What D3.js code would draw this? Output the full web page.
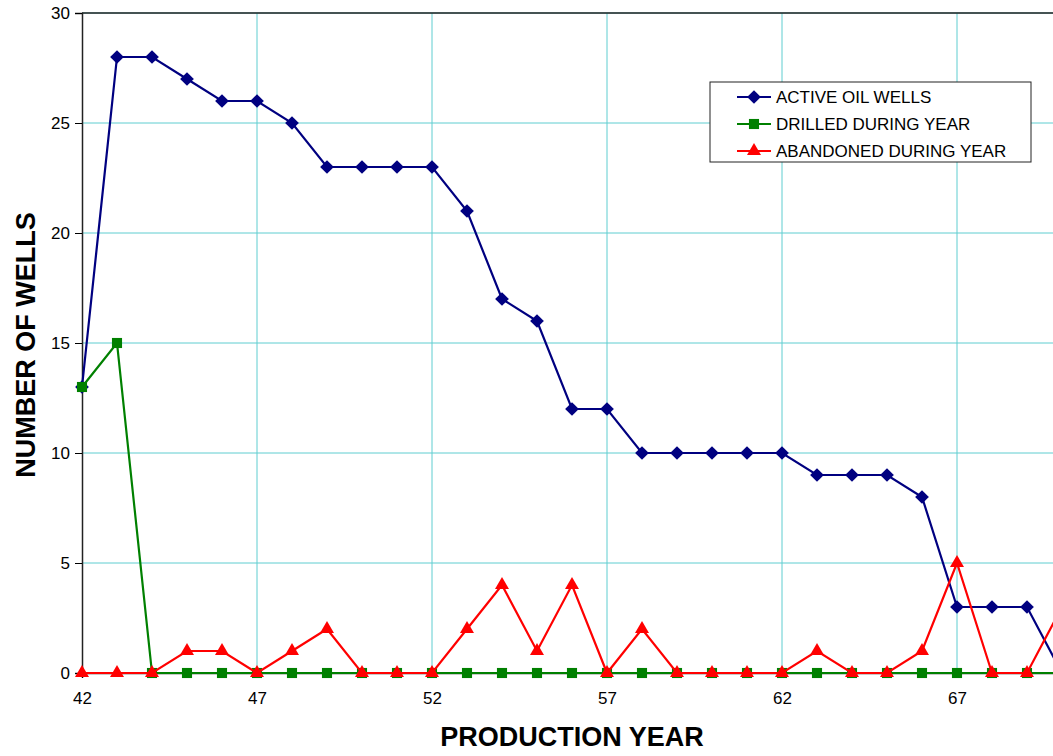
<!DOCTYPE html>
<html>
<head>
<meta charset="utf-8">
<script src="https://cdn.jsdelivr.net/npm/d3@7"></script>
<style>
  body { margin: 0; background: #fff; }
  svg { display: block; font-family: "Liberation Sans", Arial, sans-serif; }
</style>
</head>
<body>
<svg width="1053" height="756"></svg>
<script>
const years = [42, 43, 44, 45, 46, 47, 48, 49, 50, 51, 52, 53, 54, 55, 56, 57, 58, 59, 60, 61, 62, 63, 64, 65, 66, 67, 68, 69, 70]
const active = [13, 28, 28, 27, 26, 26, 25, 23, 23, 23, 23, 21, 17, 16, 12, 12, 10, 10, 10, 10, 10, 9, 9, 9, 8, 3, 3, 3, 0]
const drilled = [13, 15, 0, 0, 0, 0, 0, 0, 0, 0, 0, 0, 0, 0, 0, 0, 0, 0, 0, 0, 0, 0, 0, 0, 0, 0, 0, 0, 0]
const abandoned = [0, 0, 0, 1, 1, 0, 1, 2, 0, 0, 0, 2, 4, 1, 4, 0, 2, 0, 0, 0, 0, 1, 0, 0, 1, 5, 0, 0, 3]
const xTicks = [42, 47, 52, 57, 62, 67]
const yTicks = [0, 5, 10, 15, 20, 25, 30]

const series = [
  { name: "ACTIVE OIL WELLS", values: active, color: "#000080", symbol: d3.symbolDiamond2, size: 120 },
  { name: "DRILLED DURING YEAR", values: drilled, color: "#008000", symbol: d3.symbolSquare2, size: 130 },
  { name: "ABANDONED DURING YEAR", values: abandoned, color: "#FF0000", symbol: d3.symbolTriangle2, size: 140 },
]

const svg = d3.select("svg")
const plotLeft = 82, plotTop = 13, plotBottom = 673

const x = d3.scaleLinear().domain([42, 70]).range([plotLeft, plotLeft + 28 * 35])
const y = d3.scaleLinear().domain([0, 30]).range([plotBottom, plotTop])

// grid
svg.append("g")
  .selectAll("line")
  .data(yTicks.slice(1))
  .join("line")
    .attr("x1", plotLeft).attr("x2", 1053)
    .attr("y1", d => y(d)).attr("y2", d => y(d))
    .attr("stroke", "#5fcdd0").attr("stroke-width", 1)

svg.append("g")
  .selectAll("line")
  .data(xTicks.slice(1))
  .join("line")
    .attr("x1", d => x(d)).attr("x2", d => x(d))
    .attr("y1", plotTop).attr("y2", plotBottom)
    .attr("stroke", "#5fcdd0").attr("stroke-width", 1)

// top border
svg.append("line")
  .attr("x1", plotLeft).attr("x2", 1053)
  .attr("y1", y(30)).attr("y2", y(30))
  .attr("stroke", "#222").attr("stroke-width", 1.5)

// axes
const yAxis = svg.append("g")
  .attr("transform", `translate(${plotLeft},0)`)
  .call(d3.axisLeft(y).tickValues(yTicks).tickSize(7).tickPadding(5))
yAxis.select(".domain").attr("stroke", "#222").attr("stroke-width", 1.5)
yAxis.selectAll("text").attr("fill", "#000")
  .style("font-size", "17px").style("font-family", "Liberation Sans, Arial, sans-serif")

const xAxis = svg.append("g")
  .attr("transform", `translate(0,${plotBottom})`)
  .call(d3.axisBottom(x).tickValues(xTicks).tickSize(5).tickPadding(14).tickFormat(d3.format("d")))
xAxis.select(".domain").attr("stroke", "#222").attr("stroke-width", 1.5)
xAxis.selectAll("text").attr("fill", "#000")
  .style("font-size", "17px").style("font-family", "Liberation Sans, Arial, sans-serif")

// titles
svg.append("text")
  .attr("x", 572).attr("y", 746)
  .attr("text-anchor", "middle")
  .attr("font-size", 27).attr("font-weight", "bold")
  .text("PRODUCTION YEAR")

svg.append("text")
  .attr("transform", "translate(35,345) rotate(-90)")
  .attr("text-anchor", "middle")
  .attr("font-size", 27).attr("font-weight", "bold")
  .text("NUMBER OF WELLS")

// series
const line = d3.line().x((d, i) => x(years[i])).y(d => y(d))

series.forEach(s => {
  const g = svg.append("g")
  g.append("path")
    .attr("d", line(s.values))
    .attr("fill", "none")
    .attr("stroke", s.color)
    .attr("stroke-width", 2.2)
  g.selectAll("path.m")
    .data(s.values)
    .join("path")
      .attr("class", "m")
      .attr("transform", (d, i) => `translate(${x(years[i])},${y(d)})`)
      .attr("d", d3.symbol().type(s.symbol).size(s.size))
      .attr("fill", s.color)
})

// legend
const legend = svg.append("g").attr("transform", "translate(710,82)")
legend.append("rect")
  .attr("width", 321).attr("height", 80)
  .attr("fill", "#fff").attr("stroke", "#222").attr("stroke-width", 1)

const items = legend.selectAll("g.item")
  .data(series)
  .join("g")
    .attr("class", "item")
    .attr("transform", (d, i) => `translate(0,${15 + i * 27})`)
items.append("line")
  .attr("x1", 27).attr("x2", 61)
  .attr("stroke", d => d.color).attr("stroke-width", 2.2)
items.append("path")
  .attr("transform", "translate(44,0)")
  .attr("d", d => d3.symbol().type(d.symbol).size(d.size)())
  .attr("fill", d => d.color)
items.append("text")
  .attr("x", 66).attr("dy", "0.35em")
  .attr("font-size", 17)
  .text(d => d.name)
</script>
</body>
</html>
